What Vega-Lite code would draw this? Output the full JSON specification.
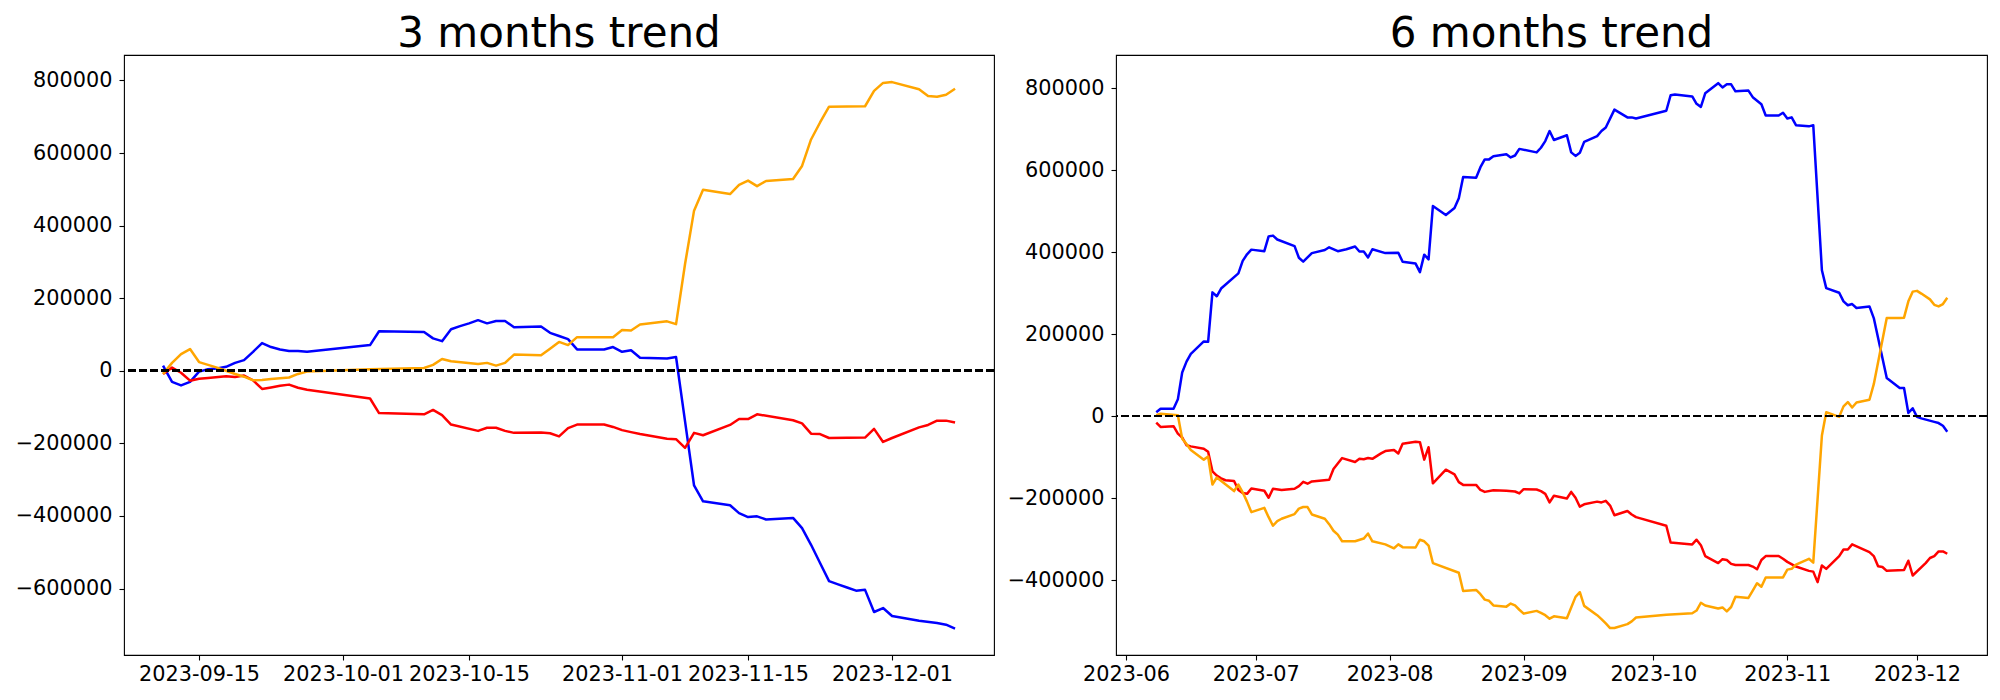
{
  "$schema": "https://vega.github.io/schema/vega-lite/v6.json",
  "background": "white",
  "padding": {"left": 14, "top": 12, "right": 5, "bottom": 5},
  "config": {
    "font": "DejaVu Sans",
    "view": {"stroke": "black", "strokeWidth": 1.1},
    "axis": {"labelFont": "DejaVu Sans", "labelFontSize": 20.8, "labelColor": "black", "tickColor": "black", "tickSize": 5, "tickWidth": 1.1, "domain": false, "grid": false, "title": null, "labelFlush": false, "labelOverlap": false},
    "axisX": {"labelPadding": 4},
    "axisY": {"labelPadding": 7},
    "title": {"font": "DejaVu Sans", "fontSize": 42, "fontWeight": "normal", "color": "black", "anchor": "middle", "baseline": "alphabetic", "offset": -1}
  },
  "datasets": {
    "m3": [
      {"d":"2023-09-11","s":"blue","v":14200},{"d":"2023-09-12","s":"blue","v":-30500},{"d":"2023-09-13","s":"blue","v":-40300},{"d":"2023-09-14","s":"blue","v":-30500},{"d":"2023-09-15","s":"blue","v":-2200},{"d":"2023-09-16","s":"blue","v":4400},{"d":"2023-09-17","s":"blue","v":6500},{"d":"2023-09-18","s":"blue","v":10900},{"d":"2023-09-19","s":"blue","v":21800},{"d":"2023-09-20","s":"blue","v":29400},{"d":"2023-09-21","s":"blue","v":52300},{"d":"2023-09-22","s":"blue","v":76300},{"d":"2023-09-23","s":"blue","v":65400},{"d":"2023-09-24","s":"blue","v":58800},{"d":"2023-09-25","s":"blue","v":54500},{"d":"2023-09-26","s":"blue","v":54500},{"d":"2023-09-27","s":"blue","v":52300},{"d":"2023-10-04","s":"blue","v":70800},{"d":"2023-10-05","s":"blue","v":108900},{"d":"2023-10-10","s":"blue","v":106800},{"d":"2023-10-11","s":"blue","v":89300},{"d":"2023-10-12","s":"blue","v":81700},{"d":"2023-10-13","s":"blue","v":114400},{"d":"2023-10-14","s":"blue","v":123100},{"d":"2023-10-15","s":"blue","v":130700},{"d":"2023-10-16","s":"blue","v":139400},{"d":"2023-10-17","s":"blue","v":130700},{"d":"2023-10-18","s":"blue","v":137300},{"d":"2023-10-19","s":"blue","v":137300},{"d":"2023-10-20","s":"blue","v":119800},{"d":"2023-10-23","s":"blue","v":122000},{"d":"2023-10-24","s":"blue","v":104600},{"d":"2023-10-25","s":"blue","v":95900},{"d":"2023-10-26","s":"blue","v":87200},{"d":"2023-10-27","s":"blue","v":58800},{"d":"2023-10-30","s":"blue","v":58800},{"d":"2023-10-31","s":"blue","v":65400},{"d":"2023-11-01","s":"blue","v":52300},{"d":"2023-11-02","s":"blue","v":56600},{"d":"2023-11-03","s":"blue","v":35900},{"d":"2023-11-06","s":"blue","v":33800},{"d":"2023-11-07","s":"blue","v":38100},{"d":"2023-11-08","s":"blue","v":-139400},{"d":"2023-11-09","s":"blue","v":-315900},{"d":"2023-11-10","s":"blue","v":-359500},{"d":"2023-11-13","s":"blue","v":-370400},{"d":"2023-11-14","s":"blue","v":-392200},{"d":"2023-11-15","s":"blue","v":-403100},{"d":"2023-11-16","s":"blue","v":-400900},{"d":"2023-11-17","s":"blue","v":-409600},{"d":"2023-11-20","s":"blue","v":-405300},{"d":"2023-11-21","s":"blue","v":-433600},{"d":"2023-11-22","s":"blue","v":-479400},{"d":"2023-11-23","s":"blue","v":-529500},{"d":"2023-11-24","s":"blue","v":-579600},{"d":"2023-11-25","s":"blue","v":-588300},{"d":"2023-11-26","s":"blue","v":-597000},{"d":"2023-11-27","s":"blue","v":-605700},{"d":"2023-11-28","s":"blue","v":-603500},{"d":"2023-11-29","s":"blue","v":-664500},{"d":"2023-11-30","s":"blue","v":-653600},{"d":"2023-12-01","s":"blue","v":-675400},{"d":"2023-12-04","s":"blue","v":-688500},{"d":"2023-12-06","s":"blue","v":-695000},{"d":"2023-12-07","s":"blue","v":-699400},{"d":"2023-12-08","s":"blue","v":-710300},
      {"d":"2023-09-11","s":"red","v":-8700},{"d":"2023-09-12","s":"red","v":8700},{"d":"2023-09-13","s":"red","v":-5400},{"d":"2023-09-14","s":"red","v":-27200},{"d":"2023-09-15","s":"red","v":-21800},{"d":"2023-09-16","s":"red","v":-19600},{"d":"2023-09-18","s":"red","v":-15300},{"d":"2023-09-19","s":"red","v":-17400},{"d":"2023-09-20","s":"red","v":-13100},{"d":"2023-09-21","s":"red","v":-26100},{"d":"2023-09-22","s":"red","v":-50100},{"d":"2023-09-23","s":"red","v":-45800},{"d":"2023-09-24","s":"red","v":-41400},{"d":"2023-09-25","s":"red","v":-38100},{"d":"2023-09-26","s":"red","v":-46800},{"d":"2023-09-27","s":"red","v":-52300},{"d":"2023-10-04","s":"red","v":-76300},{"d":"2023-10-05","s":"red","v":-116600},{"d":"2023-10-10","s":"red","v":-119800},{"d":"2023-10-11","s":"red","v":-107900},{"d":"2023-10-12","s":"red","v":-122000},{"d":"2023-10-13","s":"red","v":-148200},{"d":"2023-10-16","s":"red","v":-165600},{"d":"2023-10-17","s":"red","v":-156900},{"d":"2023-10-18","s":"red","v":-156900},{"d":"2023-10-19","s":"red","v":-165600},{"d":"2023-10-20","s":"red","v":-171000},{"d":"2023-10-23","s":"red","v":-169900},{"d":"2023-10-24","s":"red","v":-172100},{"d":"2023-10-25","s":"red","v":-180800},{"d":"2023-10-26","s":"red","v":-158000},{"d":"2023-10-27","s":"red","v":-148200},{"d":"2023-10-30","s":"red","v":-148200},{"d":"2023-10-31","s":"red","v":-154700},{"d":"2023-11-01","s":"red","v":-163400},{"d":"2023-11-02","s":"red","v":-168900},{"d":"2023-11-03","s":"red","v":-174300},{"d":"2023-11-06","s":"red","v":-187400},{"d":"2023-11-07","s":"red","v":-188500},{"d":"2023-11-08","s":"red","v":-212400},{"d":"2023-11-09","s":"red","v":-171000},{"d":"2023-11-10","s":"red","v":-177600},{"d":"2023-11-13","s":"red","v":-149200},{"d":"2023-11-14","s":"red","v":-132900},{"d":"2023-11-15","s":"red","v":-132900},{"d":"2023-11-16","s":"red","v":-119800},{"d":"2023-11-20","s":"red","v":-136200},{"d":"2023-11-21","s":"red","v":-144900},{"d":"2023-11-22","s":"red","v":-173200},{"d":"2023-11-23","s":"red","v":-174300},{"d":"2023-11-24","s":"red","v":-185200},{"d":"2023-11-28","s":"red","v":-184100},{"d":"2023-11-29","s":"red","v":-160100},{"d":"2023-11-30","s":"red","v":-196100},{"d":"2023-12-01","s":"red","v":-185200},{"d":"2023-12-04","s":"red","v":-155800},{"d":"2023-12-05","s":"red","v":-149200},{"d":"2023-12-06","s":"red","v":-137300},{"d":"2023-12-07","s":"red","v":-137300},{"d":"2023-12-08","s":"red","v":-142700},
      {"d":"2023-09-11","s":"orange","v":-8700},{"d":"2023-09-12","s":"orange","v":21800},{"d":"2023-09-13","s":"orange","v":45800},{"d":"2023-09-14","s":"orange","v":59900},{"d":"2023-09-15","s":"orange","v":24000},{"d":"2023-09-16","s":"orange","v":16300},{"d":"2023-09-17","s":"orange","v":8700},{"d":"2023-09-18","s":"orange","v":0},{"d":"2023-09-19","s":"orange","v":-8700},{"d":"2023-09-20","s":"orange","v":-16300},{"d":"2023-09-21","s":"orange","v":-26100},{"d":"2023-09-22","s":"orange","v":-25100},{"d":"2023-09-23","s":"orange","v":-22900},{"d":"2023-09-24","s":"orange","v":-20700},{"d":"2023-09-25","s":"orange","v":-18500},{"d":"2023-09-26","s":"orange","v":-8700},{"d":"2023-09-27","s":"orange","v":-2200},{"d":"2023-10-04","s":"orange","v":4400},{"d":"2023-10-10","s":"orange","v":7600},{"d":"2023-10-11","s":"orange","v":16300},{"d":"2023-10-12","s":"orange","v":32700},{"d":"2023-10-13","s":"orange","v":26100},{"d":"2023-10-16","s":"orange","v":18500},{"d":"2023-10-17","s":"orange","v":21800},{"d":"2023-10-18","s":"orange","v":14200},{"d":"2023-10-19","s":"orange","v":21800},{"d":"2023-10-20","s":"orange","v":44700},{"d":"2023-10-23","s":"orange","v":42500},{"d":"2023-10-24","s":"orange","v":61000},{"d":"2023-10-25","s":"orange","v":79500},{"d":"2023-10-26","s":"orange","v":70800},{"d":"2023-10-27","s":"orange","v":92600},{"d":"2023-10-31","s":"orange","v":92600},{"d":"2023-11-01","s":"orange","v":112200},{"d":"2023-11-02","s":"orange","v":111100},{"d":"2023-11-03","s":"orange","v":127500},{"d":"2023-11-06","s":"orange","v":136200},{"d":"2023-11-07","s":"orange","v":128500},{"d":"2023-11-08","s":"orange","v":294100},{"d":"2023-11-09","s":"orange","v":441200},{"d":"2023-11-10","s":"orange","v":498900},{"d":"2023-11-13","s":"orange","v":487000},{"d":"2023-11-14","s":"orange","v":512000},{"d":"2023-11-15","s":"orange","v":524000},{"d":"2023-11-16","s":"orange","v":508700},{"d":"2023-11-17","s":"orange","v":522900},{"d":"2023-11-20","s":"orange","v":528400},{"d":"2023-11-21","s":"orange","v":564300},{"d":"2023-11-22","s":"orange","v":637300},{"d":"2023-11-23","s":"orange","v":684100},{"d":"2023-11-24","s":"orange","v":727700},{"d":"2023-11-28","s":"orange","v":728800},{"d":"2023-11-29","s":"orange","v":771300},{"d":"2023-11-30","s":"orange","v":793100},{"d":"2023-12-01","s":"orange","v":795300},{"d":"2023-12-04","s":"orange","v":775700},{"d":"2023-12-05","s":"orange","v":757100},{"d":"2023-12-06","s":"orange","v":755000},{"d":"2023-12-07","s":"orange","v":760400},{"d":"2023-12-08","s":"orange","v":776800}
    ],
    "m6": [
      {"d":"2023-06-08","s":"blue","v":9500},{"d":"2023-06-09","s":"blue","v":18000},{"d":"2023-06-12","s":"blue","v":18000},{"d":"2023-06-13","s":"blue","v":40800},{"d":"2023-06-14","s":"blue","v":106300},{"d":"2023-06-15","s":"blue","v":132800},{"d":"2023-06-16","s":"blue","v":151800},{"d":"2023-06-19","s":"blue","v":182200},{"d":"2023-06-20","s":"blue","v":181200},{"d":"2023-06-21","s":"blue","v":301800},{"d":"2023-06-22","s":"blue","v":292300},{"d":"2023-06-23","s":"blue","v":311200},{"d":"2023-06-27","s":"blue","v":348200},{"d":"2023-06-28","s":"blue","v":378600},{"d":"2023-06-29","s":"blue","v":394700},{"d":"2023-06-30","s":"blue","v":406100},{"d":"2023-07-03","s":"blue","v":402300},{"d":"2023-07-04","s":"blue","v":438400},{"d":"2023-07-05","s":"blue","v":440300},{"d":"2023-07-06","s":"blue","v":430800},{"d":"2023-07-10","s":"blue","v":414700},{"d":"2023-07-11","s":"blue","v":386200},{"d":"2023-07-12","s":"blue","v":376700},{"d":"2023-07-14","s":"blue","v":397600},{"d":"2023-07-17","s":"blue","v":405200},{"d":"2023-07-18","s":"blue","v":411800},{"d":"2023-07-20","s":"blue","v":402300},{"d":"2023-07-22","s":"blue","v":407100},{"d":"2023-07-24","s":"blue","v":413700},{"d":"2023-07-25","s":"blue","v":401400},{"d":"2023-07-26","s":"blue","v":401400},{"d":"2023-07-27","s":"blue","v":387100},{"d":"2023-07-28","s":"blue","v":407100},{"d":"2023-07-31","s":"blue","v":397600},{"d":"2023-08-03","s":"blue","v":398500},{"d":"2023-08-04","s":"blue","v":376700},{"d":"2023-08-07","s":"blue","v":372000},{"d":"2023-08-08","s":"blue","v":351100},{"d":"2023-08-09","s":"blue","v":393800},{"d":"2023-08-10","s":"blue","v":382400},{"d":"2023-08-11","s":"blue","v":512400},{"d":"2023-08-14","s":"blue","v":490600},{"d":"2023-08-16","s":"blue","v":507700},{"d":"2023-08-17","s":"blue","v":531400},{"d":"2023-08-18","s":"blue","v":583600},{"d":"2023-08-21","s":"blue","v":581700},{"d":"2023-08-22","s":"blue","v":607300},{"d":"2023-08-23","s":"blue","v":626300},{"d":"2023-08-24","s":"blue","v":626300},{"d":"2023-08-25","s":"blue","v":633900},{"d":"2023-08-28","s":"blue","v":638600},{"d":"2023-08-29","s":"blue","v":631000},{"d":"2023-08-30","s":"blue","v":635800},{"d":"2023-08-31","s":"blue","v":651900},{"d":"2023-09-04","s":"blue","v":643400},{"d":"2023-09-05","s":"blue","v":654700},{"d":"2023-09-06","s":"blue","v":670900},{"d":"2023-09-07","s":"blue","v":695500},{"d":"2023-09-08","s":"blue","v":673700},{"d":"2023-09-11","s":"blue","v":685100},{"d":"2023-09-12","s":"blue","v":643400},{"d":"2023-09-13","s":"blue","v":634800},{"d":"2023-09-14","s":"blue","v":642400},{"d":"2023-09-15","s":"blue","v":669000},{"d":"2023-09-18","s":"blue","v":683200},{"d":"2023-09-19","s":"blue","v":695500},{"d":"2023-09-20","s":"blue","v":704100},{"d":"2023-09-22","s":"blue","v":747700},{"d":"2023-09-25","s":"blue","v":728800},{"d":"2023-09-26","s":"blue","v":728800},{"d":"2023-09-27","s":"blue","v":725900},{"d":"2023-10-04","s":"blue","v":744900},{"d":"2023-10-05","s":"blue","v":782800},{"d":"2023-10-06","s":"blue","v":784700},{"d":"2023-10-10","s":"blue","v":780000},{"d":"2023-10-11","s":"blue","v":762000},{"d":"2023-10-12","s":"blue","v":754400},{"d":"2023-10-13","s":"blue","v":787600},{"d":"2023-10-16","s":"blue","v":812300},{"d":"2023-10-17","s":"blue","v":801800},{"d":"2023-10-18","s":"blue","v":809400},{"d":"2023-10-19","s":"blue","v":809400},{"d":"2023-10-20","s":"blue","v":792300},{"d":"2023-10-23","s":"blue","v":794200},{"d":"2023-10-24","s":"blue","v":778100},{"d":"2023-10-26","s":"blue","v":761000},{"d":"2023-10-27","s":"blue","v":733500},{"d":"2023-10-30","s":"blue","v":733500},{"d":"2023-10-31","s":"blue","v":740000},{"d":"2023-11-01","s":"blue","v":725900},{"d":"2023-11-02","s":"blue","v":728800},{"d":"2023-11-03","s":"blue","v":709800},{"d":"2023-11-06","s":"blue","v":706900},{"d":"2023-11-07","s":"blue","v":709800},{"d":"2023-11-09","s":"blue","v":355800},{"d":"2023-11-10","s":"blue","v":312200},{"d":"2023-11-13","s":"blue","v":300800},{"d":"2023-11-14","s":"blue","v":279900},{"d":"2023-11-15","s":"blue","v":270400},{"d":"2023-11-16","s":"blue","v":273300},{"d":"2023-11-17","s":"blue","v":263800},{"d":"2023-11-20","s":"blue","v":267600},{"d":"2023-11-21","s":"blue","v":239100},{"d":"2023-11-24","s":"blue","v":93000},{"d":"2023-11-27","s":"blue","v":68300},{"d":"2023-11-28","s":"blue","v":68300},{"d":"2023-11-29","s":"blue","v":7600},{"d":"2023-11-30","s":"blue","v":19000},{"d":"2023-12-01","s":"blue","v":-1900},{"d":"2023-12-02","s":"blue","v":-5700},{"d":"2023-12-05","s":"blue","v":-14200},{"d":"2023-12-06","s":"blue","v":-17100},{"d":"2023-12-07","s":"blue","v":-23700},{"d":"2023-12-08","s":"blue","v":-38000},
      {"d":"2023-06-08","s":"red","v":-16100},{"d":"2023-06-09","s":"red","v":-26600},{"d":"2023-06-12","s":"red","v":-24700},{"d":"2023-06-13","s":"red","v":-42700},{"d":"2023-06-14","s":"red","v":-52200},{"d":"2023-06-15","s":"red","v":-71200},{"d":"2023-06-16","s":"red","v":-74000},{"d":"2023-06-19","s":"red","v":-79700},{"d":"2023-06-20","s":"red","v":-87300},{"d":"2023-06-21","s":"red","v":-134700},{"d":"2023-06-22","s":"red","v":-145200},{"d":"2023-06-23","s":"red","v":-151800},{"d":"2023-06-24","s":"red","v":-156600},{"d":"2023-06-26","s":"red","v":-158500},{"d":"2023-06-27","s":"red","v":-180300},{"d":"2023-06-28","s":"red","v":-187900},{"d":"2023-06-29","s":"red","v":-189800},{"d":"2023-06-30","s":"red","v":-176500},{"d":"2023-07-03","s":"red","v":-182200},{"d":"2023-07-04","s":"red","v":-199300},{"d":"2023-07-05","s":"red","v":-177400},{"d":"2023-07-07","s":"red","v":-180300},{"d":"2023-07-10","s":"red","v":-177400},{"d":"2023-07-11","s":"red","v":-170800},{"d":"2023-07-12","s":"red","v":-160400},{"d":"2023-07-13","s":"red","v":-165100},{"d":"2023-07-14","s":"red","v":-159400},{"d":"2023-07-18","s":"red","v":-155600},{"d":"2023-07-19","s":"red","v":-129000},{"d":"2023-07-21","s":"red","v":-102500},{"d":"2023-07-24","s":"red","v":-112000},{"d":"2023-07-25","s":"red","v":-104400},{"d":"2023-07-26","s":"red","v":-105300},{"d":"2023-07-27","s":"red","v":-102500},{"d":"2023-07-28","s":"red","v":-104400},{"d":"2023-07-30","s":"red","v":-91100},{"d":"2023-07-31","s":"red","v":-85400},{"d":"2023-08-02","s":"red","v":-82600},{"d":"2023-08-03","s":"red","v":-91100},{"d":"2023-08-04","s":"red","v":-67400},{"d":"2023-08-07","s":"red","v":-62600},{"d":"2023-08-08","s":"red","v":-63600},{"d":"2023-08-09","s":"red","v":-106300},{"d":"2023-08-10","s":"red","v":-75900},{"d":"2023-08-11","s":"red","v":-164200},{"d":"2023-08-14","s":"red","v":-130900},{"d":"2023-08-16","s":"red","v":-142300},{"d":"2023-08-17","s":"red","v":-161300},{"d":"2023-08-18","s":"red","v":-168000},{"d":"2023-08-21","s":"red","v":-168000},{"d":"2023-08-22","s":"red","v":-180300},{"d":"2023-08-23","s":"red","v":-185000},{"d":"2023-08-25","s":"red","v":-181200},{"d":"2023-08-28","s":"red","v":-182200},{"d":"2023-08-30","s":"red","v":-184100},{"d":"2023-08-31","s":"red","v":-188800},{"d":"2023-09-01","s":"red","v":-178400},{"d":"2023-09-04","s":"red","v":-179300},{"d":"2023-09-05","s":"red","v":-183100},{"d":"2023-09-06","s":"red","v":-189800},{"d":"2023-09-07","s":"red","v":-210700},{"d":"2023-09-08","s":"red","v":-194500},{"d":"2023-09-11","s":"red","v":-201200},{"d":"2023-09-12","s":"red","v":-185000},{"d":"2023-09-13","s":"red","v":-199300},{"d":"2023-09-14","s":"red","v":-221100},{"d":"2023-09-15","s":"red","v":-215400},{"d":"2023-09-18","s":"red","v":-208800},{"d":"2023-09-19","s":"red","v":-210700},{"d":"2023-09-20","s":"red","v":-206900},{"d":"2023-09-21","s":"red","v":-218300},{"d":"2023-09-22","s":"red","v":-242000},{"d":"2023-09-25","s":"red","v":-231500},{"d":"2023-09-26","s":"red","v":-240100},{"d":"2023-09-27","s":"red","v":-246700},{"d":"2023-10-04","s":"red","v":-267600},{"d":"2023-10-05","s":"red","v":-308400},{"d":"2023-10-10","s":"red","v":-313100},{"d":"2023-10-11","s":"red","v":-301700},{"d":"2023-10-12","s":"red","v":-315000},{"d":"2023-10-13","s":"red","v":-341600},{"d":"2023-10-16","s":"red","v":-358700},{"d":"2023-10-17","s":"red","v":-349200},{"d":"2023-10-18","s":"red","v":-351100},{"d":"2023-10-19","s":"red","v":-360600},{"d":"2023-10-20","s":"red","v":-363400},{"d":"2023-10-23","s":"red","v":-363400},{"d":"2023-10-24","s":"red","v":-367200},{"d":"2023-10-25","s":"red","v":-373900},{"d":"2023-10-26","s":"red","v":-351100},{"d":"2023-10-27","s":"red","v":-341600},{"d":"2023-10-30","s":"red","v":-341600},{"d":"2023-10-31","s":"red","v":-348300},{"d":"2023-11-01","s":"red","v":-355800},{"d":"2023-11-03","s":"red","v":-367200},{"d":"2023-11-06","s":"red","v":-377700},{"d":"2023-11-07","s":"red","v":-379600},{"d":"2023-11-08","s":"red","v":-405200},{"d":"2023-11-09","s":"red","v":-364400},{"d":"2023-11-10","s":"red","v":-372900},{"d":"2023-11-13","s":"red","v":-341600},{"d":"2023-11-14","s":"red","v":-325500},{"d":"2023-11-15","s":"red","v":-325500},{"d":"2023-11-16","s":"red","v":-313100},{"d":"2023-11-20","s":"red","v":-332100},{"d":"2023-11-21","s":"red","v":-341600},{"d":"2023-11-22","s":"red","v":-366300},{"d":"2023-11-23","s":"red","v":-368200},{"d":"2023-11-24","s":"red","v":-377700},{"d":"2023-11-28","s":"red","v":-375800},{"d":"2023-11-29","s":"red","v":-353000},{"d":"2023-11-30","s":"red","v":-389000},{"d":"2023-12-03","s":"red","v":-358700},{"d":"2023-12-04","s":"red","v":-346300},{"d":"2023-12-05","s":"red","v":-341600},{"d":"2023-12-06","s":"red","v":-330200},{"d":"2023-12-07","s":"red","v":-330200},{"d":"2023-12-08","s":"red","v":-335900},
      {"d":"2023-06-08","s":"orange","v":1900},{"d":"2023-06-09","s":"orange","v":5700},{"d":"2023-06-13","s":"orange","v":1900},{"d":"2023-06-14","s":"orange","v":-55000},{"d":"2023-06-15","s":"orange","v":-68300},{"d":"2023-06-16","s":"orange","v":-82600},{"d":"2023-06-19","s":"orange","v":-106300},{"d":"2023-06-20","s":"orange","v":-98700},{"d":"2023-06-21","s":"orange","v":-167000},{"d":"2023-06-22","s":"orange","v":-149900},{"d":"2023-06-26","s":"orange","v":-183100},{"d":"2023-06-27","s":"orange","v":-167000},{"d":"2023-06-28","s":"orange","v":-186000},{"d":"2023-06-29","s":"orange","v":-208800},{"d":"2023-06-30","s":"orange","v":-234400},{"d":"2023-07-03","s":"orange","v":-224000},{"d":"2023-07-04","s":"orange","v":-246700},{"d":"2023-07-05","s":"orange","v":-267600},{"d":"2023-07-06","s":"orange","v":-256200},{"d":"2023-07-07","s":"orange","v":-250500},{"d":"2023-07-10","s":"orange","v":-239100},{"d":"2023-07-11","s":"orange","v":-225800},{"d":"2023-07-12","s":"orange","v":-222000},{"d":"2023-07-13","s":"orange","v":-222000},{"d":"2023-07-14","s":"orange","v":-240100},{"d":"2023-07-17","s":"orange","v":-250500},{"d":"2023-07-18","s":"orange","v":-263800},{"d":"2023-07-19","s":"orange","v":-279900},{"d":"2023-07-20","s":"orange","v":-289400},{"d":"2023-07-21","s":"orange","v":-305500},{"d":"2023-07-24","s":"orange","v":-305500},{"d":"2023-07-26","s":"orange","v":-298900},{"d":"2023-07-27","s":"orange","v":-286600},{"d":"2023-07-28","s":"orange","v":-305500},{"d":"2023-07-31","s":"orange","v":-313100},{"d":"2023-08-02","s":"orange","v":-322600},{"d":"2023-08-03","s":"orange","v":-313100},{"d":"2023-08-04","s":"orange","v":-319800},{"d":"2023-08-07","s":"orange","v":-320700},{"d":"2023-08-08","s":"orange","v":-301700},{"d":"2023-08-09","s":"orange","v":-305500},{"d":"2023-08-10","s":"orange","v":-316000},{"d":"2023-08-11","s":"orange","v":-358700},{"d":"2023-08-17","s":"orange","v":-382400},{"d":"2023-08-18","s":"orange","v":-427000},{"d":"2023-08-21","s":"orange","v":-424200},{"d":"2023-08-22","s":"orange","v":-434600},{"d":"2023-08-23","s":"orange","v":-447900},{"d":"2023-08-24","s":"orange","v":-450700},{"d":"2023-08-25","s":"orange","v":-462100},{"d":"2023-08-28","s":"orange","v":-465000},{"d":"2023-08-29","s":"orange","v":-457400},{"d":"2023-08-30","s":"orange","v":-462100},{"d":"2023-08-31","s":"orange","v":-472600},{"d":"2023-09-01","s":"orange","v":-482100},{"d":"2023-09-04","s":"orange","v":-475400},{"d":"2023-09-05","s":"orange","v":-480200},{"d":"2023-09-06","s":"orange","v":-485800},{"d":"2023-09-07","s":"orange","v":-494400},{"d":"2023-09-08","s":"orange","v":-488700},{"d":"2023-09-11","s":"orange","v":-493400},{"d":"2023-09-12","s":"orange","v":-466900},{"d":"2023-09-13","s":"orange","v":-441200},{"d":"2023-09-14","s":"orange","v":-429800},{"d":"2023-09-15","s":"orange","v":-463100},{"d":"2023-09-18","s":"orange","v":-485800},{"d":"2023-09-19","s":"orange","v":-495300},{"d":"2023-09-20","s":"orange","v":-505800},{"d":"2023-09-21","s":"orange","v":-517200},{"d":"2023-09-22","s":"orange","v":-517200},{"d":"2023-09-25","s":"orange","v":-507700},{"d":"2023-09-26","s":"orange","v":-501000},{"d":"2023-09-27","s":"orange","v":-491500},{"d":"2023-10-04","s":"orange","v":-484900},{"d":"2023-10-05","s":"orange","v":-483900},{"d":"2023-10-10","s":"orange","v":-481100},{"d":"2023-10-11","s":"orange","v":-474500},{"d":"2023-10-12","s":"orange","v":-455500},{"d":"2023-10-13","s":"orange","v":-462100},{"d":"2023-10-16","s":"orange","v":-469700},{"d":"2023-10-17","s":"orange","v":-466900},{"d":"2023-10-18","s":"orange","v":-476400},{"d":"2023-10-19","s":"orange","v":-465900},{"d":"2023-10-20","s":"orange","v":-441100},{"d":"2023-10-23","s":"orange","v":-443900},{"d":"2023-10-24","s":"orange","v":-425900},{"d":"2023-10-25","s":"orange","v":-407900},{"d":"2023-10-26","s":"orange","v":-416500},{"d":"2023-10-27","s":"orange","v":-393700},{"d":"2023-10-30","s":"orange","v":-393700},{"d":"2023-10-31","s":"orange","v":-393700},{"d":"2023-11-01","s":"orange","v":-374700},{"d":"2023-11-02","s":"orange","v":-372800},{"d":"2023-11-03","s":"orange","v":-362400},{"d":"2023-11-06","s":"orange","v":-348200},{"d":"2023-11-07","s":"orange","v":-357700},{"d":"2023-11-09","s":"orange","v":-47400},{"d":"2023-11-10","s":"orange","v":9500},{"d":"2023-11-13","s":"orange","v":-1900},{"d":"2023-11-14","s":"orange","v":23700},{"d":"2023-11-15","s":"orange","v":34200},{"d":"2023-11-16","s":"orange","v":20900},{"d":"2023-11-17","s":"orange","v":33200},{"d":"2023-11-20","s":"orange","v":39900},{"d":"2023-11-21","s":"orange","v":77800},{"d":"2023-11-24","s":"orange","v":239100},{"d":"2023-11-27","s":"orange","v":239100},{"d":"2023-11-28","s":"orange","v":240100},{"d":"2023-11-29","s":"orange","v":279900},{"d":"2023-11-30","s":"orange","v":303600},{"d":"2023-12-01","s":"orange","v":305500},{"d":"2023-12-02","s":"orange","v":298900},{"d":"2023-12-04","s":"orange","v":284700},{"d":"2023-12-05","s":"orange","v":271400},{"d":"2023-12-06","s":"orange","v":267600},{"d":"2023-12-07","s":"orange","v":273300},{"d":"2023-12-08","s":"orange","v":288500}
    ]
  },
  "spacing": 122,
  "bounds": "flush",
  "hconcat": [
    {
      "width": 870,
      "height": 600,
      "title": {"text": "3 months trend"},
      "data": {"name": "m3"},
      "layer": [
        {
          "mark": {"type": "line", "strokeWidth": 2.5, "strokeJoin": "round"},
          "encoding": {
            "x": {"field": "d", "type": "temporal",
                  "scale": {"type": "utc", "nice": false, "domain": [{"year": 2023, "month": 9, "date": 6, "hours": 15, "minutes": 54, "utc": true}, {"year": 2023, "month": 12, "date": 12, "hours": 7, "minutes": 51, "utc": true}]},
                  "axis": {"format": "%Y-%m-%d", "values": [{"year": 2023, "month": 9, "date": 15, "utc": true}, {"year": 2023, "month": 10, "date": 1, "utc": true}, {"year": 2023, "month": 10, "date": 15, "utc": true}, {"year": 2023, "month": 11, "date": 1, "utc": true}, {"year": 2023, "month": 11, "date": 15, "utc": true}, {"year": 2023, "month": 12, "date": 1, "utc": true}]}},
            "y": {"field": "v", "type": "quantitative",
                  "scale": {"domain": [-783000, 870000], "nice": false, "zero": false},
                  "axis": {"format": "d", "values": [-600000, -400000, -200000, 0, 200000, 400000, 600000, 800000]}},
            "color": {"field": "s", "type": "nominal", "scale": {"domain": ["blue", "red", "orange"], "range": ["#0000ff", "#ff0000", "#ffa500"]}, "legend": null}
          }
        },
        {
          "mark": {"type": "rule", "color": "black", "strokeWidth": 2.1, "strokeDash": [7.7, 3.3]},
          "encoding": {"y": {"datum": 0, "type": "quantitative"}}
        }
      ]
    },
    {
      "width": 871,
      "height": 600,
      "title": {"text": "6 months trend"},
      "data": {"name": "m6"},
      "layer": [
        {
          "mark": {"type": "line", "strokeWidth": 2.5, "strokeJoin": "round"},
          "encoding": {
            "x": {"field": "d", "type": "temporal",
                  "scale": {"type": "utc", "nice": false, "domain": [{"year": 2023, "month": 5, "date": 29, "hours": 16, "minutes": 30, "utc": true}, {"year": 2023, "month": 12, "date": 17, "hours": 4, "minutes": 40, "utc": true}]},
                  "axis": {"format": "%Y-%m", "values": [{"year": 2023, "month": 6, "date": 1, "utc": true}, {"year": 2023, "month": 7, "date": 1, "utc": true}, {"year": 2023, "month": 8, "date": 1, "utc": true}, {"year": 2023, "month": 9, "date": 1, "utc": true}, {"year": 2023, "month": 10, "date": 1, "utc": true}, {"year": 2023, "month": 11, "date": 1, "utc": true}, {"year": 2023, "month": 12, "date": 1, "utc": true}]}},
            "y": {"field": "v", "type": "quantitative",
                  "scale": {"domain": [-583000, 881000], "nice": false, "zero": false},
                  "axis": {"format": "d", "values": [-400000, -200000, 0, 200000, 400000, 600000, 800000]}},
            "color": {"field": "s", "type": "nominal", "scale": {"domain": ["blue", "red", "orange"], "range": ["#0000ff", "#ff0000", "#ffa500"]}, "legend": null}
          }
        },
        {
          "mark": {"type": "rule", "color": "black", "strokeWidth": 2.1, "strokeDash": [7.7, 3.3]},
          "encoding": {"y": {"datum": 0, "type": "quantitative"}}
        }
      ]
    }
  ],
  "resolve": {"scale": {"color": "shared"}}
}
